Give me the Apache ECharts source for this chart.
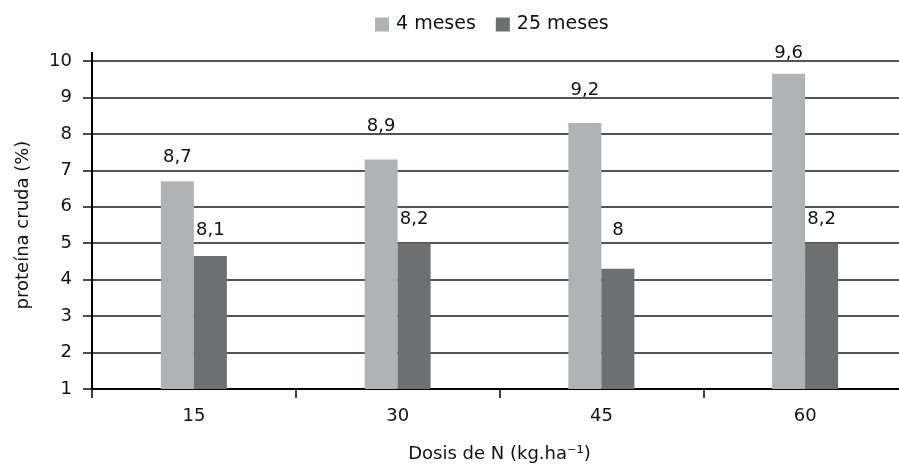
<!DOCTYPE html>
<html>
<head>
<meta charset="utf-8">
<script src="https://cdn.jsdelivr.net/npm/echarts@6/dist/echarts.min.js"></script>
<style>
  html, body { margin: 0; padding: 0; background: #fff; }
  #main { width: 899px; height: 467px; }
</style>
</head>
<body>
<div id="main"></div>
<script>
// categorias (dosis de N)
const categories = ['15', '30', '45', '60'];
// altura de las barras
const meses4 = [6.7, 7.3, 8.3, 9.65];
const meses25 = [4.65, 5.0, 4.3, 5.0];
// etiquetas que aparecen sobre las barras
const labels4 = ['8,7', '8,9', '9,2', '9,6'];
const labels25 = ['8,1', '8,2', '8', '8,2'];
// ajuste vertical de las etiquetas (px)
const lift4 = [10, 19, 19, 6];
const lift25 = [12, 10, 24, 10];

const FONT = 'DejaVu Sans';
const TXT = '#111';

const myChart = echarts.init(document.getElementById('main'));

function mkData(vals, labs, lift) {
  return vals.map((v, i) => ({
    value : v,
    label : { formatter: labs[i], offset: [0, -lift[i]] },
  }));
}

myChart.setOption({
  animation  : false,
  textStyle  : { fontFamily: FONT, color: TXT },
  legend     : {
    left      : 370,
    top       : 10,
    icon      : 'rect',
    itemWidth : 14,
    itemHeight: 14,
    itemGap   : 20,
    textStyle : { fontSize: 19, color: TXT, fontFamily: FONT, padding: [0, 0, 0, 2] },
    data      : ['4 meses', '25 meses'],
  },
  grid: {
    left           : 92,
    top            : 61,
    bottom         : 78,
    width          : 815,
    outerBoundsMode: 'none',
  },
  xAxis: {
    type        : 'category',
    data        : categories,
    name        : 'Dosis de N (kg.ha⁻¹)',
    nameLocation: 'middle',
    nameGap     : 56,
    nameTextStyle: { fontSize: 18, color: TXT, fontFamily: FONT },
    axisLine    : { lineStyle: { color: '#000', width: 2 } },
    axisTick    : { show: true, length: 9, lineStyle: { color: '#000', width: 1.5 } },
    axisLabel   : { fontSize: 18, color: TXT, margin: 18 },
  },
  yAxis: {
    type        : 'value',
    min         : 1,
    max         : 10,
    interval    : 1,
    name        : 'proteína cruda (%)',
    nameLocation: 'middle',
    nameGap     : 60,
    nameTextStyle: { fontSize: 18, color: TXT, fontFamily: FONT },
    axisLine    : { show: true, lineStyle: { color: '#000', width: 2 } },
    axisTick    : { show: true, length: 9, lineStyle: { color: '#111', width: 1.5 } },
    axisLabel   : { fontSize: 18, color: TXT, margin: 20 },
    splitLine   : { lineStyle: { color: '#1a1a1a', width: 1.5 } },
  },
  series: [
    {
      name      : '4 meses',
      type      : 'bar',
      barWidth  : 33,
      barGap    : '0%',
      itemStyle : { color: '#b1b2b4' },
      label     : { show: true, position: 'top', distance: 5, fontSize: 18, color: TXT, fontFamily: FONT },
      data      : mkData(meses4, labels4, lift4),
    },
    {
      name      : '25 meses',
      type      : 'bar',
      barWidth  : 33,
      barGap    : '0%',
      itemStyle : { color: '#6e6f71' },
      label     : { show: true, position: 'top', distance: 5, fontSize: 18, color: TXT, fontFamily: FONT },
      data      : mkData(meses25, labels25, lift25),
    },
  ],
});

// prolongación del eje Y por encima de la última línea
const top10 = myChart.convertToPixel({ yAxisIndex: 0 }, 10);
myChart.setOption({
  graphic: [{
    type  : 'line',
    shape : { x1: 92, y1: top10 - 9, x2: 92, y2: top10 },
    style : { stroke: '#000', lineWidth: 2 },
  }],
});
</script>
</body>
</html>
